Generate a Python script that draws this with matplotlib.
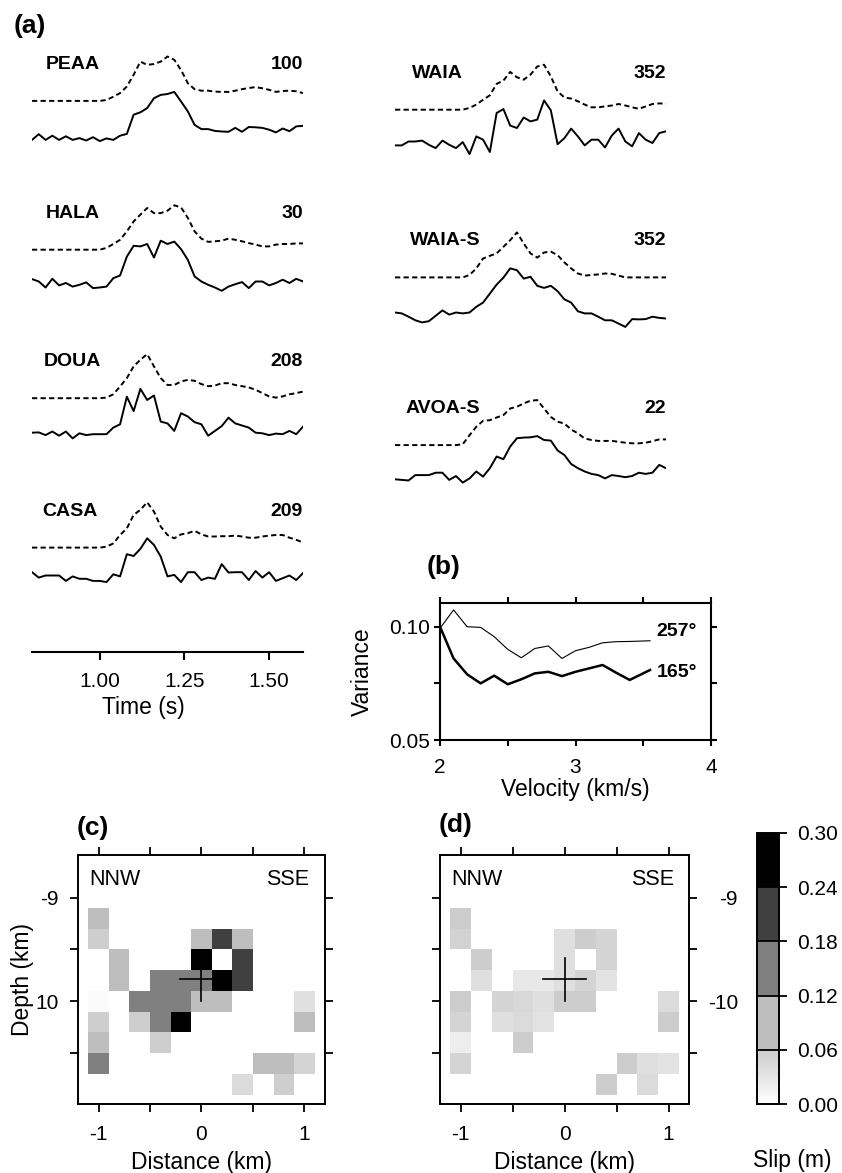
import numpy as np
import matplotlib
matplotlib.use("Agg")
import matplotlib.pyplot as plt
from matplotlib.colors import LinearSegmentedColormap, Normalize

plt.rcParams['font.family'] = ['Liberation Sans', 'DejaVu Sans']

# ---------------- (a) waveforms: observed (solid) and synthetic (dashed) ----------------
t0, dt, nsamp = 0.80, 0.02, 41

left_names = ["PEAA", "HALA", "DOUA", "CASA"]
left_azim = ["100", "30", "208", "209"]
right_names = ["WAIA", "WAIA-S", "AVOA-S"]
right_azim = ["352", "352", "22"]

obs_PEAA = [-0.06, 0.13, -0.06, 0.08, -0.06, 0.06, -0.06, 0.0, -0.08, 0.03, -0.1, -0.01, -0.06, 0.08,
            0.14, 0.78, 0.86, 1.0, 1.33, 1.44, 1.47, 1.54, 1.22, 0.89, 0.44, 0.3, 0.3, 0.24, 0.22, 0.21,
            0.34, 0.21, 0.37, 0.36, 0.34, 0.28, 0.19, 0.32, 0.23, 0.39, 0.41]
syn_PEAA = [0, 0, 0, 0, 0, 0, 0, 0, 0, 0, 0, 0.03, 0.14, 0.26, 0.48, 0.87, 1.31, 1.2, 1.23, 1.31, 1.48,
            1.37, 1.03, 0.59, 0.39, 0.34, 0.34, 0.31, 0.3, 0.3, 0.34, 0.39, 0.43, 0.46, 0.42, 0.37, 0.3,
            0.33, 0.34, 0.32, 0.26]
obs_HALA = [0.19, 0.11, -0.09, 0.2, -0.02, 0.06, -0.06, 0, 0.08, -0.11, -0.09, -0.06, 0.22, 0.31, 0.94,
            1.3, 1.28, 1.36, 0.91, 1.47, 1.36, 1.44, 1.19, 0.83, 0.28, 0.11, 0, -0.09, -0.2, -0.06, 0.02,
            0.09, -0.11, 0.11, 0.11, -0.02, 0.06, 0.17, 0.06, 0.2, 0.11]
syn_HALA = [0, 0, 0, 0, 0, 0, 0, 0, 0, 0, 0, 0.06, 0.19, 0.33, 0.61, 0.94, 1.17, 1.39, 1.22, 1.22, 1.3,
            1.48, 1.41, 1.06, 0.61, 0.37, 0.26, 0.28, 0.3, 0.37, 0.33, 0.28, 0.22, 0.17, 0.11, 0.11, 0.17,
            0.19, 0.19, 0.21, 0.21]
obs_DOUA = [0.02, 0.03, -0.06, 0.06, -0.08, 0.06, -0.17, 0, -0.06, -0.03, -0.03, -0.03, 0.19, 0.3, 1.22,
            0.74, 1.48, 1.11, 1.26, 0.39, 0.33, 0.08, 0.67, 0.56, 0.37, 0.3, -0.08, 0.08, 0.24, 0.52, 0.33,
            0.26, 0.19, 0.02, 0, -0.06, -0.01, -0.03, 0.08, -0.03, 0.22]
syn_DOUA = [0, 0, 0, 0, 0, 0, 0, 0, 0, 0, 0, 0.02, 0.13, 0.39, 0.67, 1.06, 1.28, 1.47, 1.06, 0.67, 0.44,
            0.44, 0.56, 0.61, 0.58, 0.47, 0.4, 0.42, 0.5, 0.5, 0.44, 0.4, 0.36, 0.28, 0.17, 0.06, 0.02,
            0.06, 0.13, 0.17, 0.22]
obs_CASA = [0.2, 0.02, 0.09, 0.09, 0.09, -0.09, 0.06, -0.02, -0.02, -0.09, -0.09, -0.13, 0.13, 0.06, 0.8,
            0.74, 0.98, 1.33, 1.11, 0.72, 0.06, 0.11, -0.13, 0.2, 0.2, -0.06, 0.02, -0.02, 0.47, 0.19, 0.2,
            0.2, -0.06, 0.24, 0.02, 0.2, -0.09, 0, 0.09, -0.06, 0.17]
syn_CASA = [0, 0, 0, 0, 0, 0, 0, 0, 0, 0, 0, 0.03, 0.14, 0.42, 0.64, 1.09, 1.26, 1.51, 1.2, 0.7, 0.42,
            0.31, 0.44, 0.48, 0.56, 0.44, 0.37, 0.37, 0.38, 0.38, 0.4, 0.37, 0.33, 0.33, 0.37, 0.4, 0.42,
            0.42, 0.33, 0.26, 0.17]
obs_WAIA = [0, 0, 0.13, 0.13, 0.16, 0.02, -0.09, 0.16, 0.02, -0.09, 0.11, -0.29, 0.3, 0.19, -0.22, 1.08,
            1.21, 0.66, 0.58, 0.93, 0.8, 0.86, 1.5, 1.17, 0.04, 0.24, 0.56, 0.3, 0, 0.19, 0.19, -0.07,
            0.33, 0.56, 0.13, -0.03, 0.41, 0.19, 0.08, 0.41, 0.47]
syn_WAIA = [0, 0, 0, 0, 0, 0, 0, 0, 0, 0, 0, 0.06, 0.17, 0.33, 0.48, 0.86, 0.97, 1.26, 1.08, 1.0, 1.17,
            1.44, 1.5, 1.11, 0.61, 0.41, 0.37, 0.28, 0.17, 0.08, 0.08, 0.11, 0.14, 0.19, 0.14, 0.08, 0.03,
            0.11, 0.19, 0.21, 0.2]
obs_WAIAS = [0, -0.03, -0.14, -0.26, -0.33, -0.29, -0.11, 0.07, -0.07, 0, -0.03, 0, 0.19, 0.33, 0.63,
             0.93, 1.16, 1.47, 1.41, 1.13, 1.19, 0.89, 0.82, 0.89, 0.71, 0.44, 0.33, 0.04, -0.03, -0.03,
             -0.14, -0.26, -0.26, -0.37, -0.48, -0.22, -0.23, -0.22, -0.14, -0.18, -0.2]
syn_WAIAS = [0, 0, 0, 0, 0, 0, 0, 0, 0, 0, 0, 0.08, 0.3, 0.63, 0.72, 0.8, 1.02, 1.24, 1.5, 1.13, 0.8,
             0.66, 0.83, 0.86, 0.74, 0.5, 0.3, 0.13, 0.06, 0.08, 0.1, 0.13, 0.12, 0.06, 0, 0, 0, 0, 0, 0, 0]
obs_AVOAS = [0, -0.02, -0.04, 0.14, 0.14, 0.14, 0.22, 0.22, -0.02, 0.11, -0.11, 0.03, 0.26, 0.09, 0.37,
             0.76, 0.67, 1.09, 1.37, 1.39, 1.4, 1.44, 1.31, 1.29, 0.96, 0.81, 0.51, 0.37, 0.26, 0.18,
             0.14, 0.03, 0.14, 0.11, 0.07, 0.11, 0.22, 0.18, 0.22, 0.48, 0.37]
syn_AVOAS = [0, 0, 0, 0, 0, 0, 0, 0, 0, 0, 0.03, 0.33, 0.61, 0.81, 0.83, 0.92, 1.0, 1.22, 1.28, 1.39,
             1.48, 1.5, 1.22, 0.94, 0.78, 0.72, 0.52, 0.39, 0.22, 0.17, 0.14, 0.14, 0.14, 0.11, 0.08,
             0.06, 0.06, 0.08, 0.13, 0.19, 0.19]

left_obs = [obs_PEAA, obs_HALA, obs_DOUA, obs_CASA]
left_syn = [syn_PEAA, syn_HALA, syn_DOUA, syn_CASA]
right_obs = [obs_WAIA, obs_WAIAS, obs_AVOAS]
right_syn = [syn_WAIA, syn_WAIAS, syn_AVOAS]

# ---------------- (b) variance vs rupture velocity ----------------
velocity = [2.0, 2.1, 2.2, 2.3, 2.4, 2.5, 2.6, 2.7, 2.8, 2.9, 3.0, 3.1, 3.2, 3.3, 3.4, 3.55]
var_257 = [0.0993, 0.1074, 0.1000, 0.0997, 0.0956, 0.0900, 0.0863, 0.0904, 0.0915, 0.0860, 0.0894,
           0.0909, 0.0929, 0.0934, 0.0935, 0.0938]
var_165 = [0.1000, 0.0860, 0.0790, 0.0750, 0.0784, 0.0746, 0.0768, 0.0794, 0.0801, 0.0782, 0.0801,
           0.0816, 0.0831, 0.0797, 0.0765, 0.0809]

# ---------------- (c), (d) slip on the fault (m) ----------------
dist = [-1.0, -0.8, -0.6, -0.4, -0.2, 0.0, 0.2, 0.4, 0.6, 0.8, 1.0]
depth = [-9.2, -9.4, -9.6, -9.8, -10.0, -10.2, -10.4, -10.6, -10.8]
slip_c = [
    [0.09, 0, 0, 0, 0, 0, 0, 0, 0, 0, 0],
    [0.058, 0, 0, 0, 0, 0.09, 0.21, 0.09, 0, 0, 0],
    [0, 0.09, 0, 0, 0, 0.27, 0, 0.21, 0, 0, 0],
    [0, 0.09, 0, 0.15, 0.15, 0.15, 0.27, 0.21, 0, 0, 0],
    [0.005, 0, 0.15, 0.15, 0.15, 0.09, 0.09, 0, 0, 0, 0.036],
    [0.058, 0, 0.058, 0.15, 0.27, 0, 0, 0, 0, 0, 0.09],
    [0.09, 0, 0, 0.058, 0, 0, 0, 0, 0, 0, 0],
    [0.15, 0, 0, 0, 0, 0, 0, 0, 0.09, 0.09, 0.05],
    [0, 0, 0, 0, 0, 0, 0, 0.042, 0, 0.058, 0],
]
slip_d = [
    [0.059, 0, 0, 0, 0, 0, 0, 0, 0, 0, 0],
    [0.053, 0, 0, 0, 0, 0.037, 0.059, 0.05, 0, 0, 0],
    [0, 0.059, 0, 0, 0, 0.037, 0, 0.05, 0, 0, 0],
    [0, 0.037, 0, 0.027, 0.027, 0.037, 0.05, 0.033, 0, 0, 0],
    [0.059, 0, 0.05, 0.046, 0.037, 0.059, 0.059, 0, 0, 0, 0.042],
    [0.05, 0, 0.037, 0.042, 0.033, 0, 0, 0, 0, 0, 0.059],
    [0.021, 0, 0, 0.059, 0, 0, 0, 0, 0, 0, 0],
    [0.05, 0, 0, 0, 0, 0, 0, 0, 0.059, 0.037, 0.033],
    [0, 0, 0, 0, 0, 0, 0, 0.059, 0, 0.042, 0],
]
hypo = (0.0, -9.79)
slip_ticks = [0.0, 0.06, 0.12, 0.18, 0.24, 0.30]

# ---------------- layout ----------------
W, H = 842, 1173
fig = plt.figure(figsize=(W / 100, H / 100), dpi=100)


def box(x0, y0, x1, y1):
    return [x0 / W, 1 - y1 / H, (x1 - x0) / W, (y1 - y0) / H]


def fig_xy(x, y):
    return x / W, 1 - y / H


PX = 30.0  # pixels per amplitude unit
axL = fig.add_axes(box(32, 40, 303, 651.7))
axR = fig.add_axes(box(395, 40, 666, 500))
axL.set_ylim(0, (651.7 - 40) / PX)
axR.set_ylim(0, (500 - 40) / PX)
times = t0 + dt * np.arange(nsamp)

left_base = [18.36, 13.40, 8.45, 3.47]
left_gap = [1.24, 1.17, 1.17, 1.02]
left_namex = [0.841, 0.841, 0.835, 0.830]
right_base = [13.01, 7.42, 1.83]
right_gap = [1.19, 1.17, 1.14]
right_namex = [0.850, 0.844, 0.832]

dash = (0, (2.7, 1.7))
for ax, names, azs, obs, syn, base, gap, nx in [
        (axL, left_names, left_azim, left_obs, left_syn, left_base, left_gap, left_namex),
        (axR, right_names, right_azim, right_obs, right_syn, right_base, right_gap, right_namex)]:
    ax.set_xlim(0.8, 1.6)
    for i in range(len(names)):
        ax.plot(times, base[i] + np.array(syn[i]), color='k', lw=1.4, ls=dash)
        ax.plot(times, base[i] - gap[i] + np.array(obs[i]), color='k', lw=1.4)
        ax.text(nx[i], base[i] + 1.22, names[i], fontsize=14, fontweight='bold', va='center', ha='left')
        ax.text(1.6, base[i] + 1.22, azs[i], fontsize=14, fontweight='bold', va='center', ha='right')

axR.axis('off')
for s in ['left', 'top', 'right']:
    axL.spines[s].set_visible(False)
axL.spines['bottom'].set_linewidth(1.5)
axL.set_yticks([])
axL.set_xticks([1.0, 1.25, 1.5])
axL.set_xticklabels(['1.00', '1.25', '1.50'])
axL.tick_params(axis='x', direction='out', length=5.5, width=1.5, labelsize=15, pad=9)
axL.set_xlabel('Time (s)', fontsize=16.5, labelpad=4)
axL.xaxis.label.set_x(0.41)

# (b)
axB = fig.add_axes(box(440, 602.7, 711, 740))
axB.plot(velocity, var_257, color='k', lw=0.8)
axB.plot(velocity, var_165, color='k', lw=1.8)
axB.set_xlim(2, 4)
axB.set_ylim(0.05, 0.1106)
axB.set_xticks([2, 3, 4])
axB.set_xticklabels(['2', '3', '4'])
axB.set_xticks([2.5, 3.5], minor=True)
axB.set_yticks([0.05, 0.10])
axB.set_yticklabels(['0.05', '0.10'])
axB.set_yticks([0.075], minor=True)
axB.tick_params(which='both', direction='out', length=4, width=1.5, top=True, right=True,
                labelsize=15, pad=3)
axB.tick_params(axis='x', pad=9)
for s in axB.spines.values():
    s.set_linewidth(1.5)
axB.text(3.6, 0.0977, '257°', fontsize=14, fontweight='bold', va='center')
axB.text(3.6, 0.0800, '165°', fontsize=14, fontweight='bold', va='center')
axB.set_ylabel('Variance', fontsize=16.5, labelpad=11)
axB.set_xlabel('Velocity (km/s)', fontsize=16.5, labelpad=1)

# (c), (d)
cdict = {}
for ch in ['red', 'green', 'blue']:
    cdict[ch] = [(0.0, 1.0, 1.0), (0.2, 0.80, 0.745), (0.4, 0.745, 0.5), (0.6, 0.5, 0.25),
                 (0.8, 0.25, 0.0), (1.0, 0.0, 0.0)]
cmap = LinearSegmentedColormap('slipgray', cdict, N=600)
norm = Normalize(vmin=0.0, vmax=0.30)

xe = np.concatenate([np.array(dist) - 0.1, [dist[-1] + 0.1]])
ye = np.concatenate([np.array(depth) + 0.1, [depth[-1] - 0.1]])

axC = fig.add_axes(box(78, 855, 325, 1104))
axD = fig.add_axes(box(440, 855, 689.3, 1104))
for ax, grid, ylabels in [(axC, slip_c, ['-9', '10']), (axD, slip_d, ['-9', '-10'])]:
    mesh = ax.pcolormesh(xe, ye, np.array(grid), cmap=cmap, norm=norm, shading='flat')
    ax.plot([hypo[0] - 0.21, hypo[0] + 0.21], [hypo[1], hypo[1]], color='k', lw=1.2)
    ax.plot([hypo[0], hypo[0]], [hypo[1] + 0.21, hypo[1] - 0.21], color='k', lw=1.2)
    ax.set_xlim(-1.2, 1.2)
    ax.set_ylim(-10.99, -8.59)
    ax.set_xticks([-1, 0, 1])
    ax.set_xticklabels(['-1', '0', '1'])
    ax.set_xticks([-0.5, 0.5], minor=True)
    ax.set_yticks([-9, -10])
    ax.set_yticklabels(ylabels)
    ax.set_yticks([-9.5, -10.5], minor=True)
    ax.tick_params(which='both', direction='out', length=6, width=1.3, top=True, right=True,
                   labelsize=15)
    for s in ax.spines.values():
        s.set_linewidth(1.4)
    ax.text(-1.09, -8.826, 'NNW', fontsize=15.5, va='center', ha='left')
    ax.text(1.05, -8.826, 'SSE', fontsize=15.5, va='center', ha='right')
    ax.set_xlabel('Distance (km)', fontsize=16.5, labelpad=5)

axC.tick_params(axis='y', pad=8)
axC.tick_params(axis='x', pad=9)
axC.set_ylabel('Depth (km)', fontsize=16.5, labelpad=1)
axD.tick_params(axis='x', pad=9)
axD.tick_params(axis='y', labelleft=False, labelright=True, pad=29)
for lab in axD.get_yticklabels():
    lab.set_horizontalalignment('right')

cax = fig.add_axes(box(756.7, 833, 779, 1104))
cb = fig.colorbar(mesh, cax=cax, ticks=slip_ticks)
cb.ax.set_yticklabels(['%.2f' % v for v in slip_ticks])
cb.ax.tick_params(direction='out', length=6, width=1.3, labelsize=15, pad=7)
cb.outline.set_linewidth(1.4)
for v in slip_ticks[1:-1]:
    cax.axhline(v, color='k', lw=1.3)
fig.text(*fig_xy(792, 1160), 'Slip (m)', fontsize=16.5, ha='center', va='center')

# panel letters
for lab, x, y in [('(a)', 14, 26), ('(b)', 427, 567), ('(c)', 77, 828), ('(d)', 439, 825)]:
    fig.text(*fig_xy(x, y), lab, fontsize=19, fontweight='bold', ha='left', va='center')

fig.savefig('out.png', dpi=100)
